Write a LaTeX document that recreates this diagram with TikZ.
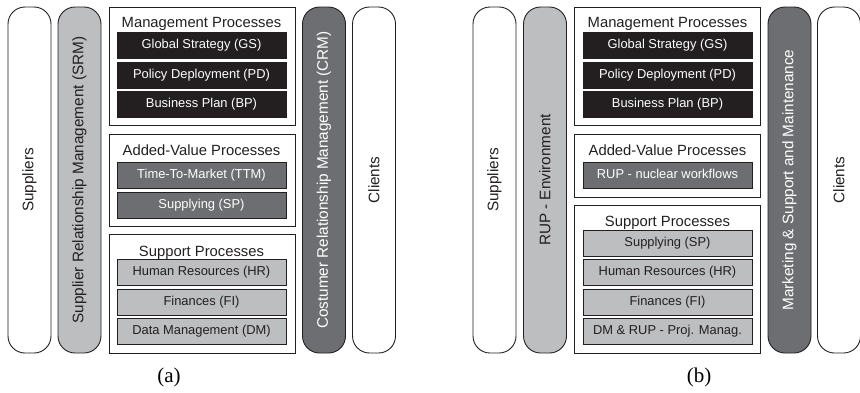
\documentclass[tikz,border=0pt]{standalone}
\usepackage{fontspec}
\setmainfont{Liberation Serif}
\setsansfont{Liberation Sans}
\usepackage{xcolor}
\usetikzlibrary{positioning}

\definecolor{procblack}{HTML}{231F20}
\definecolor{procmid}{HTML}{6D6E71}
\definecolor{proclight}{HTML}{BCBEC0}

\begin{document}
\begin{tikzpicture}[
  x=1pt, y=-1pt,
  pill/.style={draw=procblack, line width=0.9pt, rounded corners=17pt, rotate=90,
    minimum width=346pt, minimum height=43pt, inner sep=0pt,
    font=\sffamily\fontsize{15.3}{17}\selectfont, text=procblack},
  group/.style={draw=procblack, line width=0.8pt, minimum width=186pt, inner sep=0pt},
  grouptitle/.style={anchor=base, inner sep=0pt, text=procblack,
    font=\sffamily\fontsize{14.8}{16}\selectfont},
  proc/.style={draw=procblack, line width=0.8pt, minimum width=169pt, minimum height=26pt,
    inner sep=0pt, text height=9.6pt, text depth=2.8pt,
    font=\sffamily\fontsize{12.9}{14}\selectfont},
  mgmt/.style={proc, fill=procblack, text=white},
  core/.style={proc, fill=procmid, text=white},
  support/.style={proc, fill=proclight, text=procblack},
  caption/.style={font=\fontsize{21}{24}\selectfont}
]
\useasboundingbox (0,0) rectangle (860,392);

% (a) business model
\node[pill] (suppA) at (29.5,180) {Suppliers};
\node[pill, fill=proclight] (srm) at (79.5,180) {Supplier Relationship Management (SRM)};
\node[pill, fill=procmid, text=white] (crm) at (324,180) {Costumer Relationship Management (CRM)};
\node[pill] (cliA) at (374,180) {Clients};

\node[group, minimum height=118pt] (mgmtA) at (202,66) {};
\node[grouptitle] (mgmtAtitle) at (201.5,27.5) {Management Processes};
\node[mgmt] (gsA) at (201.5,45) {Global Strategy (GS)};
\node[mgmt] (pdA) at (201.5,75) {Policy Deployment (PD)};
\node[mgmt] (bpA) at (201.5,104) {Business Plan (BP)};

\node[group, minimum height=92pt] (avA) at (202,180) {};
\node[grouptitle] (avAtitle) at (201.5,155.5) {Added-Value Processes};
\node[core] (ttm) at (201.5,175.5) {Time-To-Market (TTM)};
\node[core] (spA) at (201.5,205) {Supplying (SP)};

\node[group, minimum height=119pt] (supA) at (202,293.5) {};
\node[grouptitle] (supAtitle) at (201.5,256) {Support Processes};
\node[support] (hrA) at (201.5,272) {Human Resources (HR)};
\node[support] (fiA) at (201.5,302) {Finances (FI)};
\node[support] (dm) at (201.5,331) {Data Management (DM)};

\node[caption] (capA) at (169,377) {(a)};

% (b) with RUP
\node[pill] (suppB) at (494.5,180) {Suppliers};
\node[pill, fill=proclight] (rupenv) at (545,180) {RUP - Environment};
\node[pill, fill=procmid, text=white] (mktg) at (789.5,180) {Marketing \& Support and Maintenance};
\node[pill] (cliB) at (839,180) {Clients};

\node[group, minimum height=118pt] (mgmtB) at (667,66) {};
\node[grouptitle] (mgmtBtitle) at (667.5,27.5) {Management Processes};
\node[mgmt] (gsB) at (667.5,45) {Global Strategy (GS)};
\node[mgmt] (pdB) at (667.5,75) {Policy Deployment (PD)};
\node[mgmt] (bpB) at (667.5,104) {Business Plan (BP)};

\node[group, minimum height=63pt] (avB) at (667,165.5) {};
\node[grouptitle] (avBtitle) at (667.5,155.5) {Added-Value Processes};
\node[core] (rupcore) at (667.5,175.5) {RUP - nuclear workflows};

\node[group, minimum height=148pt] (supB) at (667,279) {};
\node[grouptitle] (supBtitle) at (667.5,226) {Support Processes};
\node[support] (spB) at (667.5,243) {Supplying (SP)};
\node[support] (hrB) at (667.5,272) {Human Resources (HR)};
\node[support] (fiB) at (667.5,302) {Finances (FI)};
\node[support] (dmrup) at (667.5,331) {DM \& RUP - Proj. Manag.};

\node[caption] (capB) at (699,377) {(b)};
\end{tikzpicture}
\end{document}
